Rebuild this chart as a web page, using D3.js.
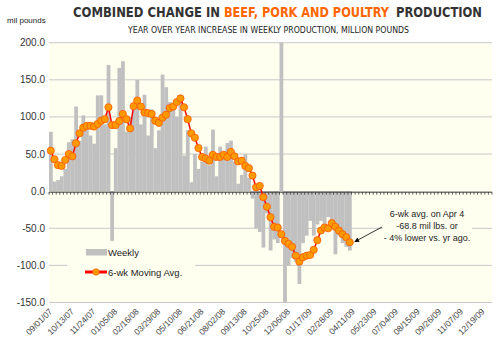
<!DOCTYPE html>
<html>
<head>
<meta charset="utf-8">
<script src="https://cdn.jsdelivr.net/npm/d3@7"></script>
<style>
    body { margin: 0; background: #fff; }
    svg { display: block; font-family: "Liberation Sans", Arial, sans-serif; }
</style>
</head>
<body>
<svg id="chart" width="500" height="348"></svg>
<script>
// 週次の前年比増減（百万ポンド）
const weekly = [
    80, 13, 15, 20, 30, 66, 70, 114, 68, 102,
    88, 75, 64, 129, 129, 90, 170, -67, 58, 166,
    175, 80, 100, 110, 150, 90, 130, 75, 110, 58,
    82, 157, 140, 120, 110, 100, 120, 48, 82, 12,
    50, 30, 40, 60, 35, 83, 20, 60, 45, 65,
    68, 40, 10, 22, 50, 18, -10, -50, -55, -76,
    -30, -80, -65, -70, 200, -150, -100, -90, -95, -125,
    -70, -60, -40, -60, -45, -40, -50, -35, -40, -85,
    -60, -70, -75, -80
];

// 6週移動平均
const movingAvg = [
    54.5, 43, 35, 34, 42, 50, 47, 64.5, 78, 85.5,
    88, 88, 87, 90.5, 95, 97, 113, 89, 89, 94.5,
    104, 97, 84.5, 114.5, 122, 114, 106, 105, 104, 95,
    92, 99, 103, 112, 114, 120, 125, 113, 97, 78,
    72, 58, 46, 44, 41, 49, 46, 46, 49, 46,
    53, 47, 40, 41, 34, 31, 21, 5, 7, -8,
    -21, -35, -48, -49, -58, -67, -71, -75, -87, -95,
    -89, -87, -86, -79, -66, -53, -49, -50, -43, -48,
    -53, -58, -62, -68.8
];

const yTicks = [200, 150, 100, 50, 0, -50, -100, -150];

const xLabels = [
    "09/01/07", "10/13/07", "11/24/07", "01/05/08", "02/16/08", "03/29/08",
    "05/10/08", "06/21/08", "08/02/08", "09/13/08", "10/25/08", "12/06/08",
    "01/17/09", "02/28/09", "04/11/09", "05/23/09", "07/04/09", "08/15/09",
    "09/26/09", "11/07/09", "12/19/09"
];
const labelEvery = 6;
const weekCount = 123;

const svg = d3.select('#chart');
const plot = { left: 49, right: 492, top: 42.7, bottom: 302.5 };

const x = d3.scaleBand()
    .domain(d3.range(weekCount))
    .range([plot.left, plot.right])
    .padding(0);

const y = d3.scaleLinear()
    .domain([-150, 200])
    .range([plot.bottom, plot.top]);

// プロット背景
svg.append('rect')
    .attr('x', plot.left)
    .attr('y', plot.top)
    .attr('width', plot.right - plot.left)
    .attr('height', plot.bottom - plot.top)
    .attr('fill', '#fffff0');

// グリッド線
svg.append('g')
    .selectAll('line')
    .data(yTicks.filter(d => d !== 0))
    .enter()
    .append('line')
    .attr('x1', plot.left)
    .attr('x2', plot.right)
    .attr('y1', d => y(d))
    .attr('y2', d => y(d))
    .attr('stroke', '#c8c8c8')
    .attr('stroke-width', 1);

// 週次バー（軸範囲でクリップ）
const clip = v => Math.max(-150, Math.min(200, v));
svg.append('g')
    .selectAll('rect')
    .data(weekly)
    .enter()
    .append('rect')
    .attr('x', (d, i) => x(i))
    .attr('width', x.bandwidth() + 0.2)
    .attr('y', d => y(Math.max(0, clip(d))))
    .attr('height', d => Math.abs(y(clip(d)) - y(0)))
    .attr('fill', '#c0c0c0');

// 0ライン + 目盛り
const zeroY = y(0) + 1;
svg.append('line')
    .attr('x1', plot.left)
    .attr('x2', plot.right)
    .attr('y1', zeroY)
    .attr('y2', zeroY)
    .attr('stroke', '#333')
    .attr('stroke-width', 1);

svg.append('g')
    .selectAll('line')
    .data(d3.range(weekCount + 1))
    .enter()
    .append('line')
    .attr('x1', i => plot.left + i * x.step())
    .attr('x2', i => plot.left + i * x.step())
    .attr('y1', zeroY)
    .attr('y2', zeroY + 2.5)
    .attr('stroke', '#333')
    .attr('stroke-width', 0.8);

// 凡例
const legend = svg.append('g');
legend.append('rect')
    .attr('x', 67).attr('y', 243)
    .attr('width', 128).attr('height', 46)
    .attr('fill', '#fffff0');
legend.append('rect')
    .attr('x', 86).attr('y', 249)
    .attr('width', 21).attr('height', 6.5)
    .attr('fill', '#c0c0c0');
legend.append('text')
    .attr('x', 108).attr('y', 255.5)
    .attr('font-size', 9.5).attr('fill', '#222')
    .text('Weekly');
legend.append('line')
    .attr('x1', 85).attr('x2', 107)
    .attr('y1', 272).attr('y2', 272)
    .attr('stroke', '#ff0000').attr('stroke-width', 3);
legend.append('circle')
    .attr('cx', 96).attr('cy', 272).attr('r', 3.2)
    .attr('fill', '#ff9900').attr('stroke', '#ff6600').attr('stroke-width', 0.8);
legend.append('text')
    .attr('x', 108).attr('y', 276)
    .attr('font-size', 9.5).attr('fill', '#222')
    .text('6-wk Moving Avg.');

// 注記
const note = svg.append('g');
note.append('rect')
    .attr('x', 383).attr('y', 205)
    .attr('width', 89).attr('height', 42)
    .attr('fill', '#fffff0');
const noteLines = ['6-wk avg. on Apr 4', '-68.8 mil lbs. or', '- 4% lower vs. yr ago.'];
note.selectAll('text')
    .data(noteLines)
    .enter()
    .append('text')
    .attr('x', 427)
    .attr('y', (d, i) => 216.5 + i * 12)
    .attr('text-anchor', 'middle')
    .attr('font-size', 9)
    .attr('fill', '#222')
    .text(d => d);

svg.append('defs').append('marker')
    .attr('id', 'arrow')
    .attr('viewBox', '0 0 10 10')
    .attr('refX', 9).attr('refY', 5)
    .attr('markerWidth', 6).attr('markerHeight', 6)
    .attr('orient', 'auto')
    .append('path')
    .attr('d', 'M0,0 L10,5 L0,10 z')
    .attr('fill', '#000');

const lastIdx = movingAvg.length - 1;
svg.append('line')
    .attr('x1', 382).attr('y1', 227)
    .attr('x2', x(lastIdx) + x.bandwidth() / 2 + 5)
    .attr('y2', y(movingAvg[lastIdx]) - 0.5)
    .attr('stroke', '#000').attr('stroke-width', 0.8)
    .attr('marker-end', 'url(#arrow)');

// 移動平均ライン
const line = d3.line()
    .x((d, i) => x(i) + x.bandwidth() / 2)
    .y(d => y(d));

svg.append('path')
    .datum(movingAvg)
    .attr('d', line)
    .attr('fill', 'none')
    .attr('stroke', '#ff0000')
    .attr('stroke-width', 1.5);

svg.append('g')
    .selectAll('circle')
    .data(movingAvg)
    .enter()
    .append('circle')
    .attr('cx', (d, i) => x(i) + x.bandwidth() / 2)
    .attr('cy', d => y(d))
    .attr('r', 3.6)
    .attr('fill', '#ff9900')
    .attr('stroke', '#ff5a00')
    .attr('stroke-width', 0.8);

// Y軸ラベル
svg.append('g')
    .selectAll('text')
    .data(yTicks)
    .enter()
    .append('text')
    .attr('x', 45)
    .attr('y', d => y(d) + 3.5)
    .attr('text-anchor', 'end')
    .attr('font-size', 10)
    .attr('fill', '#333')
    .text(d => d.toFixed(1));

// X軸ラベル（45度回転）
svg.append('g')
    .selectAll('text')
    .data(xLabels)
    .enter()
    .append('text')
    .attr('transform', (d, i) => {
        const cx = x(i * labelEvery) + x.bandwidth() / 2;
        return `translate(${cx},310) rotate(-45)`;
    })
    .attr('text-anchor', 'end')
    .attr('dy', '0.35em')
    .attr('font-size', 8.5)
    .attr('fill', '#444')
    .text(d => d);

// タイトル（3分割で色分け）
const narrow = '"Liberation Sans Narrow", "DejaVu Sans Condensed", Arial, sans-serif';
const titleParts = [
    { text: 'COMBINED CHANGE IN', x: 73, w: 147, color: '#333' },
    { text: 'BEEF, PORK AND POULTRY', x: 224, w: 165, color: '#ff6600' },
    { text: 'PRODUCTION', x: 396, w: 86, color: '#333' }
];
svg.append('g')
    .selectAll('text')
    .data(titleParts)
    .enter()
    .append('text')
    .attr('x', d => d.x)
    .attr('y', 17)
    .attr('font-family', narrow)
    .attr('font-size', 13.5)
    .attr('font-weight', 'bold')
    .attr('fill', d => d.color)
    .attr('textLength', d => d.w)
    .attr('lengthAdjust', 'spacingAndGlyphs')
    .text(d => d.text);

svg.append('text')
    .attr('x', 128).attr('y', 33)
    .attr('font-family', narrow)
    .attr('font-size', 8.5)
    .attr('fill', '#222')
    .attr('textLength', 281)
    .attr('lengthAdjust', 'spacingAndGlyphs')
    .text('YEAR OVER YEAR INCREASE IN WEEKLY PRODUCTION, MILLION POUNDS');

svg.append('text')
    .attr('x', 7).attr('y', 23)
    .attr('font-size', 8)
    .attr('fill', '#222')
    .text('mil pounds');
</script>
</body>
</html>
